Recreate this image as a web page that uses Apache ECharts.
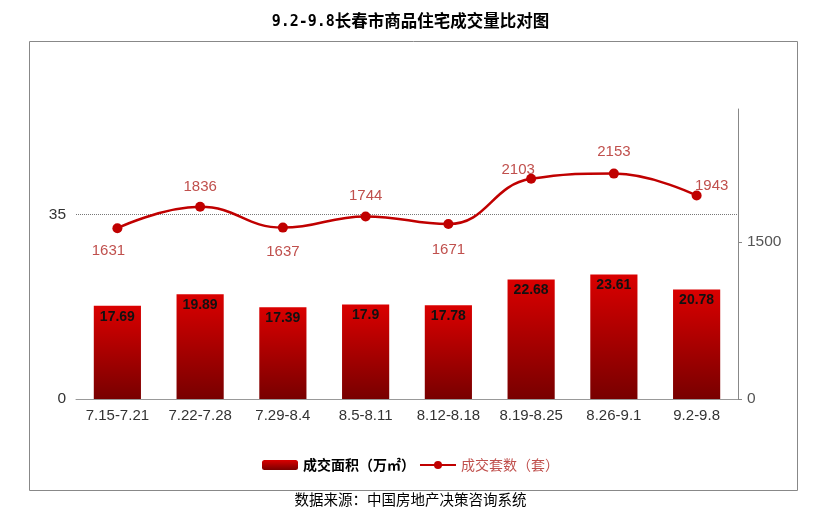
<!DOCTYPE html>
<html><head><meta charset="utf-8">
<script src="https://cdn.jsdelivr.net/npm/echarts@6/dist/echarts.min.js"></script>
<style>html,body{margin:0;padding:0;background:#fff}#c{width:821px;height:517px}</style>
</head><body><div id="c"></div>
<script>
const categories = ['7.15-7.21','7.22-7.28','7.29-8.4','8.5-8.11','8.12-8.18','8.19-8.25','8.26-9.1','9.2-9.8'];
const areaValues = [17.69, 19.89, 17.39, 17.9, 17.78, 22.68, 23.61, 20.78];
const countValues = [1631, 1836, 1637, 1744, 1671, 2103, 2153, 1943];
const leftTicks = [0, 35];
const rightTicks = [0, 1500];

// label placement style for the line series (per point)
const countLabelStyle = [
  {position: 'bottom', offset: [-9, -2]},
  {position: 'top', offset: [0, 5]},
  {position: 'bottom', offset: [0, 0]},
  {position: 'top', offset: [0, 4]},
  {position: 'bottom', offset: [0, 1]},
  {position: 'top', offset: [-13, 16]},
  {position: 'top', offset: [0, 3]},
  {position: 'top', offset: [15, 15]}
];

const chart = echarts.init(document.getElementById('c'));
const F = '"Liberation Sans", Arial, sans-serif';
const CJK = '"Noto Sans CJK SC", sans-serif';
chart.setOption({
  backgroundColor: '#fff',
  animation: false,
  title: [
    {text: '{a|9.2-9.8}{b|长春市商品住宅成交量比对图}', left: 'center', top: 4,
     textStyle: {rich: {
       a: {fontFamily: '"DejaVu Sans Mono", monospace', fontSize: 15, fontWeight: 'bold', color: '#000',
           lineHeight: 24, verticalAlign: 'middle', padding: [2, 0, 0, 0]},
       b: {fontFamily: CJK, fontSize: 16.5, fontWeight: 'bold', color: '#000',
           lineHeight: 24, verticalAlign: 'middle'}}}},
    {text: '数据来源：中国房地产决策咨询系统', left: 'center', top: 487,
     textStyle: {fontFamily: CJK, fontSize: 14.5, fontWeight: 'normal', color: '#000'}}
  ],
  graphic: [{type: 'rect', shape: {x: 29.5, y: 41.5, width: 768, height: 449},
    style: {fill: 'none', stroke: '#888', lineWidth: 1}, silent: true}],
  legend: {
    bottom: 40, left: 'center', itemGap: 4, itemWidth: 36, itemHeight: 10,
    data: [
      {name: '成交面积（万㎡）', textStyle: {color: '#000', fontWeight: 'bold'}},
      {name: '成交套数（套）', textStyle: {color: '#c0504d'}}
    ],
    textStyle: {fontFamily: CJK, fontSize: 14}
  },
  grid: {left: 76, right: 83, top: 109, bottom: 118},
  xAxis: {
    type: 'category', data: categories,
    axisLine: {lineStyle: {color: '#999'}},
    axisTick: {show: false},
    axisLabel: {interval: 0, fontFamily: F, fontSize: 15, color: '#333', margin: 9}
  },
  yAxis: [
    {type: 'value', min: 0, max: 55, interval: 35,
     axisLine: {show: false}, axisTick: {show: false},
     axisLabel: {showMaxLabel: false, fontFamily: F, fontSize: 15.5, color: '#333', margin: 10,
       formatter: v => leftTicks.includes(v) ? String(v) : ''},
     splitLine: {show: true, showMinLine: false, showMaxLine: false, lineStyle: {type: 'dotted', color: '#777'}}},
    {type: 'value', min: 0, max: 2770, interval: 1500, position: 'right',
     axisLine: {show: true, lineStyle: {color: '#888'}},
     axisTick: {show: true, length: 4, lineStyle: {color: '#888'}},
     axisLabel: {showMaxLabel: false, fontFamily: F, fontSize: 15.5, color: '#555', margin: 9,
       formatter: v => rightTicks.includes(v) ? String(v) : ''},
     splitLine: {show: false}}
  ],
  series: [
    {name: '成交面积（万㎡）', type: 'bar', data: areaValues, barWidth: '57%',
     itemStyle: {color: new echarts.graphic.LinearGradient(0, 0, 0, 1, [
       {offset: 0, color: '#da0000'}, {offset: 1, color: '#780000'}])},
     label: {show: true, position: 'insideTop', distance: 4, color: '#111',
       fontFamily: F, fontSize: 14, fontWeight: 'bold'}},
    {name: '成交套数（套）', type: 'line', yAxisIndex: 1, data: countValues.map((v, i) => ({
       value: v,
       label: countLabelStyle[i]
     })),
     smooth: 0.45, symbol: 'circle', symbolSize: 10,
     lineStyle: {color: '#c00000', width: 2.5}, itemStyle: {color: '#c00000'},
     label: {show: true, distance: 12, color: '#c0504d', fontFamily: F, fontSize: 15}}
  ]
});
</script></body></html>
